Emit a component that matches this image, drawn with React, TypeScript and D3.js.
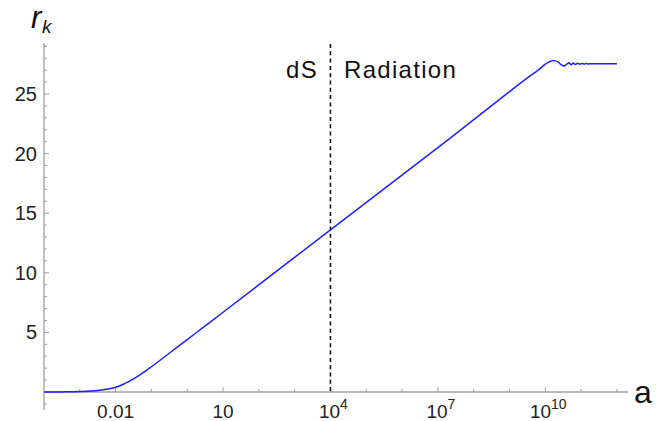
import React from 'react';
import * as d3 from 'd3';

// curve: exponent of a (log10) and r_k
const aExp = [-4, -3.5, -3, -2.5, -2, -1.75, -1.5, -1.25, -1, -0.5, 0, 0.5, 1, 4, 7, 9, 9.5, 9.8, 10.0, 10.15, 10.25, 10.35, 10.45, 10.52, 10.6, 10.66, 10.72, 10.78, 10.84, 10.9, 10.96, 11.02, 11.08, 11.14, 11.2, 11.3, 11.5, 12.0];
const rk = [0.0, 0.01, 0.04, 0.13, 0.4, 0.7, 1.1, 1.58, 2.12, 3.25, 4.4, 5.54, 6.69, 13.6, 20.5, 25.2, 26.35, 27.0, 27.5, 27.75, 27.8, 27.7, 27.45, 27.35, 27.5, 27.62, 27.45, 27.6, 27.48, 27.58, 27.5, 27.56, 27.51, 27.55, 27.52, 27.54, 27.53, 27.53];

const xMajorExp = [-2, 1, 4, 7, 10];
const xMinorExp = [-3, -1, 0, 2, 3, 5, 6, 8, 9, 11, 12];
const yMajor = [5, 10, 15, 20, 25];
const yMinor = [-1, 1, 2, 3, 4, 6, 7, 8, 9, 11, 12, 13, 14, 16, 17, 18, 19, 21, 22, 23, 24, 26, 27, 28, 29];
const boundaryExp = 4;

const W = 672;
const H = 421;
const axisX = 44;
const axisY = 392;
const font = '"Liberation Sans", Arial, sans-serif';
const axisColor = '#a0a0a0';

export default function App() {
  const x = d3.scaleLog().domain([1e-4, Math.pow(10, 12.31)]).range([axisX, 628]);
  const y = d3.scaleLinear().domain([0, 25]).range([axisY, 94]);

  const pts: [number, number][] = aExp.map((e, i) => [Math.pow(10, e), rk[i]]);
  const line = d3.line<[number, number]>()
    .x(d => x(d[0]))
    .y(d => y(d[1]))
    .curve(d3.curveCatmullRom);

  const xLabel = (e: number) => {
    if (e === -2) return <tspan>0.01</tspan>;
    if (e === 1) return <tspan>10</tspan>;
    return (
      <>
        <tspan>10</tspan>
        <tspan fontSize={14} dy={-9}>{e}</tspan>
      </>
    );
  };

  return (
    <svg width={W} height={H} style={{ position: 'absolute', left: 0, top: 0, background: '#fff' }}>
      {/* axes */}
      <line x1={axisX} x2={628} y1={axisY} y2={axisY} stroke={axisColor} strokeWidth={1.3} />
      <line x1={axisX} x2={axisX} y1={y(-1.5)} y2={y(29.28)} stroke={axisColor} strokeWidth={1.3} />

      {xMajorExp.map(e => (
        <line key={'xM' + e} x1={x(Math.pow(10, e))} x2={x(Math.pow(10, e))} y1={axisY} y2={axisY - 5} stroke={axisColor} />
      ))}
      {xMinorExp.map(e => (
        <line key={'xm' + e} x1={x(Math.pow(10, e))} x2={x(Math.pow(10, e))} y1={axisY} y2={axisY - 3} stroke={axisColor} />
      ))}
      {yMajor.map(v => (
        <line key={'yM' + v} x1={axisX} x2={axisX + 5} y1={y(v)} y2={y(v)} stroke={axisColor} />
      ))}
      {yMinor.map(v => (
        <line key={'ym' + v} x1={axisX} x2={axisX + 3} y1={y(v)} y2={y(v)} stroke={axisColor} />
      ))}

      {/* tick labels */}
      {yMajor.map(v => (
        <text key={'yl' + v} x={37} y={y(v) + 7} textAnchor="end" fontFamily={font} fontSize={20} fill="#222">{v}</text>
      ))}
      {xMajorExp.map(e => (
        <text key={'xl' + e} x={x(Math.pow(10, e)) + (e >= 4 ? 3 : 0)} y={418} textAnchor="middle" fontFamily={font} fontSize={19} fill="#222">
          {xLabel(e)}
        </text>
      ))}

      {/* axis labels */}
      <text x={31} y={28} fontFamily={font} fontSize={31} fontStyle="italic" fill="#111">r</text>
      <text x={42} y={33} fontFamily={font} fontSize={19} fontStyle="italic" fill="#111">k</text>
      <text x={634} y={403} fontFamily={font} fontSize={32} fill="#111">a</text>

      {/* era boundary */}
      <line x1={x(Math.pow(10, boundaryExp))} x2={x(Math.pow(10, boundaryExp))} y1={44} y2={axisY}
        stroke="#111" strokeWidth={1.6} strokeDasharray="4 3.3" />
      <text x={318} y={78} textAnchor="end" fontFamily={font} fontSize={24} letterSpacing={1.3} fill="#111">dS</text>
      <text x={344} y={78} fontFamily={font} fontSize={24} letterSpacing={1.3} fill="#111">Radiation</text>

      {/* r_k curve */}
      <path d={line(pts) ?? ''} fill="none" stroke="#2020ff" strokeWidth={1.5} />
    </svg>
  );
}
